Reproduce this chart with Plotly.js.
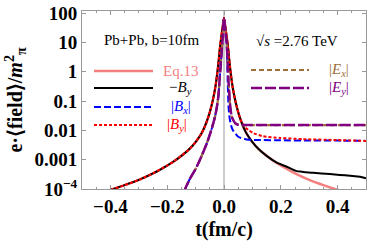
<!DOCTYPE html>
<html><head><meta charset="utf-8">
<script src="https://cdn.plot.ly/plotly-3.0.1.min.js"></script>
<style>html,body{margin:0;padding:0;background:#fff;}#chart{width:371px;height:245px;}</style>
</head><body><div id="chart"></div>
<script>
// Eq.13 (symmetric)
var tEq = [-0.5,-0.45,-0.39,-0.35,-0.3,-0.25,-0.2,-0.18,-0.15,-0.12,-0.1,-0.08,-0.07,-0.06,-0.05,-0.04,-0.03,-0.025,-0.02,-0.015,-0.01,-0.005,0,
           0.005,0.01,0.015,0.02,0.025,0.03,0.04,0.05,0.06,0.07,0.08,0.1,0.12,0.15,0.18,0.2,0.25,0.3,0.35,0.39,0.45,0.5];
var vEq = [5.01e-5,6.92e-5,1e-4,1.35e-4,2.04e-4,3.39e-4,6.31e-4,8.32e-4,1.35e-3,2.4e-3,3.98e-3,7.59e-3,0.012,0.0209,0.0417,0.1,0.316,0.708,1.78,5.62,14.1,31.6,67.6,
           31.6,14.1,5.62,1.78,0.708,0.316,0.1,0.0417,0.0209,0.012,7.59e-3,3.98e-3,2.4e-3,1.35e-3,8.32e-4,6.31e-4,3.39e-4,2.04e-4,1.35e-4,1e-4,6.92e-5,5.01e-5];
// -B_y
var tBy = [-0.5,-0.45,-0.39,-0.35,-0.3,-0.25,-0.2,-0.18,-0.15,-0.12,-0.1,-0.08,-0.07,-0.06,-0.05,-0.04,-0.03,-0.025,-0.02,-0.015,-0.01,-0.005,0,
           0.005,0.01,0.015,0.02,0.025,0.03,0.04,0.05,0.06,0.07,0.08,0.1,0.12,0.15,0.186,0.221,0.256,0.274,0.314,0.373,0.408,0.444,0.479,0.5];
var vBy = [5.01e-5,6.92e-5,1e-4,1.35e-4,2.04e-4,3.39e-4,6.31e-4,8.32e-4,1.35e-3,2.4e-3,3.98e-3,7.59e-3,0.012,0.0209,0.0417,0.1,0.316,0.708,1.78,5.62,14.1,31.6,67.6,
           31.6,14.1,5.62,1.78,0.708,0.316,0.1,0.0417,0.0209,0.012,7.59e-3,3.98e-3,2.4e-3,1.35e-3,7.94e-4,5.75e-4,4.07e-4,3.89e-4,3.55e-4,3.24e-4,3.02e-4,2.82e-4,2.63e-4,2.34e-4];
// |B_x|
var tBx = [-0.2,-0.15,-0.137,-0.12,-0.1,-0.08,-0.06,-0.045,-0.032,-0.025,-0.02,-0.015,-0.01,-0.005,0,
           0.005,0.01,0.013,0.016,0.02,0.027,0.033,0.05,0.08,0.12,0.2,0.3,0.4,0.5];
var vBx = [3.98e-6,5.01e-5,1e-4,2.24e-4,4.79e-4,1.26e-3,3.72e-3,0.01,0.0282,0.0631,0.141,0.631,2.82,12.6,67.6,
           22.4,6.31,0.501,0.0631,0.0251,0.0126,9.55e-3,6.03e-3,4.9e-3,4.68e-3,4.57e-3,4.47e-3,4.47e-3,4.37e-3];
// |B_y|
var tBy2 = tEq.slice(0,32).concat([0.074,0.085,0.102,0.137,0.197,0.278,0.398,0.5]);
var vBy2 = vEq.slice(0,32).concat([0.0129,0.0105,8.13e-3,6.31e-3,5.5e-3,5.01e-3,4.68e-3,4.37e-3]);
// |E_x|, |E_y|
var tE = [-0.2,-0.15,-0.137,-0.12,-0.1,-0.08,-0.06,-0.045,-0.032,-0.025,-0.02,-0.015,-0.01,-0.005,0,
          0.005,0.0095,0.015,0.021,0.027,0.039,0.05,0.1,0.2,0.3,0.4,0.5];
var vEx = [3.98e-6,5.01e-5,1e-4,2.24e-4,4.79e-4,1.26e-3,3.72e-3,0.01,0.0282,0.0631,0.141,0.631,2.82,12.6,67.6,
           22.4,9.55,0.676,0.0851,0.0295,0.0178,0.0155,0.0151,0.0151,0.0151,0.0151,0.0151];
var vEy = vEx.slice();

var xTickVals = [-0.4,-0.2,0,0.2,0.4];
var xTickText = ['\u22120.4','\u22120.2','0.0','0.2','0.4'];
var yTickVals = [1e-4,1e-3,0.01,0.1,1,10,100];
var yTickText = ['10<sup>\u22124</sup>','0.001','0.01','0.1','1','10','100'];

var serif = 'Liberation Serif, Times New Roman, serif';
var cEq = '#f47f7f', cBx = '#0000ff', cBy = '#ff0000', cEx = '#a0703c', cEy = '#800080';

var traces = [
  {x:tEq, y:vEq, mode:'lines', line:{color:cEq, width:2.5, shape:'spline', smoothing:0.6}},
  {x:tBy, y:vBy, mode:'lines', line:{color:'#000', width:2, shape:'spline', smoothing:0.6}},
  {x:tBx, y:vBx, mode:'lines', line:{color:cBx, width:2, dash:'7px,3px', shape:'spline', smoothing:0.5}},
  {x:tBy2, y:vBy2, mode:'lines', line:{color:cBy, width:2, dash:'3px,2px', shape:'spline', smoothing:0.6}},
  {x:tE, y:vEx, mode:'lines', line:{color:cEx, width:2.2, dash:'5px,3px', shape:'spline', smoothing:0.5}},
  {x:tE, y:vEy, mode:'lines', line:{color:cEy, width:2.5, dash:'11px,3px', shape:'spline', smoothing:0.5}}
];

function lx(px){return (px-82)/284;}
function ly(py){return (189-py)/178;}
function legLine(x0,x1,y,color,width,dash){
  return {type:'line', xref:'paper', yref:'paper', x0:lx(x0), x1:lx(x1), y0:ly(y), y1:ly(y), line:{color:color,width:width,dash:dash}};
}
var shapes = [
  {type:'line', xref:'x', yref:'paper', x0:0, x1:0, y0:0, y1:1, line:{color:'#999', width:1}, layer:'below'},
  legLine(94,153,71,cEq,2.5,'solid'),
  legLine(94,153,88,'#000',2,'solid'),
  legLine(94,153,107,cBx,2,'7px,3px'),
  legLine(94,153,125,cBy,2,'3px,2px'),
  legLine(251,309,70,cEx,2.2,'5px,3px'),
  legLine(251,309,88,cEy,2.5,'11px,3px')
];
function ann(text,px,py,color,anchor,size){
  return {text:text, xref:'paper', yref:'paper', x:lx(px), y:ly(py), xanchor:anchor, yanchor:'middle', showarrow:false,
          font:{family:serif, size:size||15, color:color}};
}
var annotations = [
  ann('Pb+Pb, b=10fm',152,40,'#000','center',15),
  ann('\u221A<i>s</i> =2.76 TeV',297,41,'#000','center',15),
  ann('Eq.13',180,71,cEq,'center'),
  ann('\u2212<i>B</i><sub><i>y</i></sub>',180,88,'#000','center'),
  ann('|<i>B</i><sub><i>x</i></sub>|',181,107,cBx,'center'),
  ann('|<i>B</i><sub><i>y</i></sub>|',177,125,cBy,'center'),
  ann('|<i>E</i><sub><i>x</i></sub>|',339,70,cEx,'center'),
  ann('|<i>E</i><sub><i>y</i></sub>|',339,88,cEy,'center')
];

var layout = {
  width:371, height:245,
  margin:{l:82, r:5, t:11, b:56},
  paper_bgcolor:'#fff', plot_bgcolor:'#fff',
  showlegend:false,
  xaxis:{range:[-0.5,0.5], tickvals:xTickVals, ticktext:xTickText, ticks:'inside', ticklen:4, tickcolor:'#999',
         showline:true, linecolor:'#999', linewidth:1, mirror:'ticks', showgrid:false, zeroline:false,
         minor:{dtick:0.05, ticks:'inside', ticklen:2, tickcolor:'#999', showgrid:false},
         tickfont:{family:serif, size:19, color:'#000', weight:700},
         title:{text:'t(fm/c)', font:{family:serif, size:20, color:'#000', weight:700}, standoff:6}},
  yaxis:{type:'log', range:[-4,2.07], tickvals:yTickVals, ticktext:yTickText, ticks:'inside', ticklen:4, tickcolor:'#999',
         showline:true, linecolor:'#999', linewidth:1, mirror:'ticks', showgrid:false, zeroline:false,
         tickfont:{family:serif, size:19, color:'#000', weight:700},
         title:{text:'e\u00B7\u27E8field\u27E9/<i>m</i><sup>2</sup><sub>\u03C0</sub>', font:{family:serif, size:20, color:'#000', weight:700}, standoff:6}},
  shapes:shapes,
  annotations:annotations
};
Plotly.newPlot('chart', traces, layout, {displayModeBar:false, staticPlot:true});
</script></body></html>
